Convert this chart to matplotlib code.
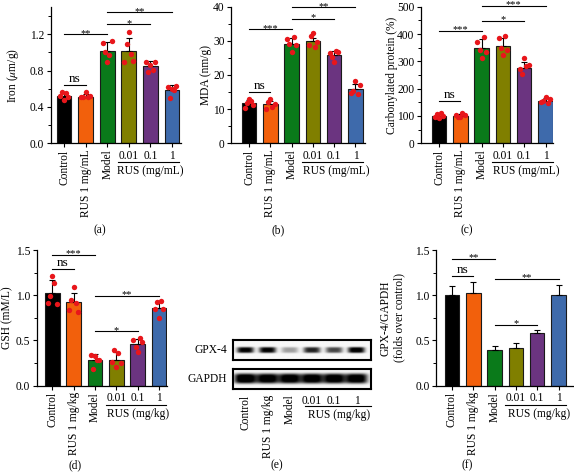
import numpy as np
import matplotlib
matplotlib.use("Agg")
import matplotlib.pyplot as plt
from matplotlib import transforms

plt.rcParams['font.family'] = ['Liberation Serif', 'DejaVu Serif']
plt.rcParams['mathtext.fontset'] = 'stix'
plt.rcParams['font.size'] = 8.3

W, H = 574, 473

# ---- data ----
groups_ml = ['Control', 'RUS 1 mg/mL', 'Model', '0.01', '0.1', '1']
groups_kg = ['Control', 'RUS 1 mg/kg', 'Model', '0.01', '0.1', '1']
bar_colors = ['#000000', '#F2600C', '#0A7A1A', '#807F00', '#6B3480', '#3E6AAB']
dot_color = '#E8161B'

iron_mean = [0.52, 0.51, 1.02, 1.02, 0.85, 0.59]
iron_err = [0.03, 0.03, 0.09, 0.135, 0.055, 0.055]
iron_dots = [[0.52, 0.56, 0.48, 0.55, 0.51],
             [0.51, 0.505, 0.57, 0.505, 0.52],
             [1.10, 1.00, 0.90, 0.97, 1.13],
             [0.90, 1.09, 1.22, 0.98, 0.91],
             [0.89, 0.78, 0.86, 0.81, 0.89],
             [0.615, 0.495, 0.60, 0.59, 0.63]]
iron_sig = [(0, 1, 0.64, 'ns'), (0, 2, 1.2, '**'), (2, 4, 1.31, '*'), (2, 5, 1.44, '**')]

mda_mean = [11.7, 11.4, 29.2, 30.0, 25.9, 15.8]
mda_err = [0.9, 0.9, 1.5, 0.8, 1.0, 1.6]
mda_dots = [[10.3, 11.9, 13.1, 12.5, 11.1],
            [10.0, 12.2, 12.9, 10.7, 11.5],
            [30.4, 29.2, 26.8, 31.2, 28.8],
            [28.9, 31.4, 32.2, 28.3, 29.8],
            [26.3, 25.4, 23.9, 27.1, 26.8],
            [14.6, 15.3, 18.2, 14.4, 17.1]]
mda_sig = [(0, 1, 15.1, 'ns'), (0, 2, 33.4, '***'), (2, 4, 36.4, '*'), (2, 5, 39.8, '**')]

carb_mean = [101, 101, 349, 357, 277, 156]
carb_err = [6, 5, 31, 27, 22, 8]
carb_dots = [[98, 106, 91, 110, 100],
             [104, 98, 95, 110, 104],
             [372, 341, 311, 390, 335],
             [384, 350, 323, 394, 341],
             [271, 254, 311, 283, 287],
             [152, 155, 168, 146, 161]]
carb_sig = [(0, 1, 156, 'ns'), (0, 2, 412, '***'), (2, 4, 449, '*'), (2, 5, 502, '***')]

gsh_mean = [1.026, 0.92, 0.287, 0.283, 0.463, 0.86]
gsh_err = [0.14, 0.11, 0.058, 0.084, 0.057, 0.074]
gsh_dots = [[0.91, 0.99, 1.21, 1.13, 0.90],
            [0.835, 0.945, 1.09, 0.915, 0.81],
            [0.338, 0.19, 0.327, 0.283, 0.283],
            [0.257, 0.39, 0.21, 0.357, 0.254],
            [0.51, 0.43, 0.368, 0.53, 0.478],
            [0.853, 0.92, 0.743, 0.934, 0.853]]
gsh_sig = [(0, 2, 1.45, '***'), (0, 1, 1.287, 'ns'), (2, 5, 0.99, '**'), (2, 4, 0.60, '*')]

gpx_mean = [1.0, 1.03, 0.39, 0.42, 0.58, 1.007]
gpx_err = [0.10, 0.117, 0.044, 0.054, 0.04, 0.111]
gpx_sig = [(0, 2, 1.40, '**'), (0, 1, 1.21, 'ns'), (2, 5, 1.18, '**'), (2, 4, 0.676, '*')]

# western blot band strengths (0 = none, 1 = black)
gpx4_band = [1.0, 1.0, 0.35, 0.85, 0.7, 1.05]
gapdh_band = [1.15, 1.1, 1.1, 1.1, 1.1, 1.1]

JITTER = np.array([-0.2, -0.1, 0.0, 0.1, 0.2])

fig = plt.figure(figsize=(W / 100, H / 100), dpi=100)


def px_axes(left, top, right, bottom):
    return fig.add_axes([left / W, 1 - bottom / H, (right - left) / W, (bottom - top) / H])


def offset(ax, dy_px):
    trans = transforms.blended_transform_factory(ax.transData, ax.transAxes)
    return trans + transforms.ScaledTranslation(0, dy_px / 100, fig.dpi_scale_trans)


def group_labels(ax, labels, unit, x0, x1, xt, line_px, text_px):
    ax.set_xticks(range(6), labels)
    for lbl in ax.get_xticklabels()[:3]:
        lbl.set_rotation(90)
    ax.plot([x0, x1], [0, 0], transform=offset(ax, -line_px), color='black',
            lw=0.8, clip_on=False)
    ax.text(xt, 0, unit, transform=offset(ax, -text_px), ha='center', va='center')


def bar_panel(rect, means, errs, dots, ylim, major, minor, ylabel, label_px,
              sigs, xlim, labels, unit, unit_x):
    ax = px_axes(*rect)
    x = np.arange(6)
    ax.bar(x, means, width=0.68, color=bar_colors, edgecolor='#1a1a1a', linewidth=0.8, zorder=2)
    ax.errorbar(x, means, yerr=[np.zeros(6), errs], fmt='none', ecolor='black',
                elinewidth=0.8, capsize=2.5, capthick=0.8, zorder=3)
    if dots is not None:
        for i, d in enumerate(dots):
            ax.scatter(i + JITTER, d, s=15, color=dot_color, linewidths=0, zorder=4)
    ax.set_xlim(*xlim)
    ax.set_ylim(*ylim)
    ax.set_yticks(major)
    ax.set_yticks(minor, minor=True)
    for s in ['top', 'right']:
        ax.spines[s].set_visible(False)
    for s in ['left', 'bottom']:
        ax.spines[s].set_linewidth(0.9)
    ax.tick_params(axis='both', which='major', direction='out', length=3, width=0.8, pad=1.5)
    ax.tick_params(axis='y', which='minor', direction='out', length=2, width=0.7)
    group_labels(ax, labels, unit, 2.5, 5.35, unit_x, 19, 28)

    for a, b, y, txt in sigs:
        ax.plot([a, b], [y, y], color='black', lw=0.8, clip_on=False)
        if txt == 'ns':
            ax.annotate(txt, (0.5 * (a + b), y), xytext=(0, 2), textcoords='offset points',
                        ha='center', va='baseline', fontsize=9.5, annotation_clip=False)
        else:
            ax.annotate(txt, (0.5 * (a + b), y), xytext=(0, -1), textcoords='offset points',
                        ha='center', va='baseline', fontsize=7.5, annotation_clip=False)

    ax.set_ylabel(ylabel)
    ax.yaxis.set_label_coords((label_px - rect[0]) / (rect[2] - rect[0]), 0.5)
    return ax


# (a) iron
ax_a = bar_panel((50.7, 7, 181, 143.3), iron_mean, iron_err, iron_dots, (0, 1.5),
                 [0, 0.4, 0.8, 1.2], [0.2, 0.6, 1.0, 1.4], 'Iron ($\\mu$m/g)', 21,
                 iron_sig, (-0.62, 5.42), groups_ml, 'RUS (mg/mL)', 4.0)
ax_a.set_yticklabels(['0.0', '0.4', '0.8', '1.2'])

# (b) MDA
bar_panel((230.7, 6.7, 365, 143.3), mda_mean, mda_err, mda_dots, (0, 40),
          [0, 10, 20, 30, 40], [5, 15, 25, 35], 'MDA (nm/g)', 212,
          mda_sig, (-0.86, 5.45), groups_ml, 'RUS (mg/mL)', 4.1)

# (c) carbonylated protein
bar_panel((420.7, 6.7, 553, 143.3), carb_mean, carb_err, carb_dots, (0, 500),
          [0, 100, 200, 300, 400, 500], [50, 150, 250, 350, 450],
          'Carbonylated protein (%)', 398,
          carb_sig, (-0.86, 5.35), groups_ml, 'RUS (mg/mL)', 4.1)

# (d) GSH
ax_d = bar_panel((36.7, 250, 166.7, 385.7), gsh_mean, gsh_err, gsh_dots, (0, 1.5),
                 [0, 0.5, 1.0, 1.5], [0.25, 0.75, 1.25], 'GSH (mM/L)', 13,
                 gsh_sig, (-0.73, 5.36), groups_kg, 'RUS (mg/kg)', 4.0)
ax_d.set_yticklabels(['0.0', '0.5', '1.0', '1.5'])

# (f) GPX-4 / GAPDH
ax_f = bar_panel((436, 250, 573, 385.7), gpx_mean, gpx_err, None, (0, 1.5),
                 [0, 0.5, 1.0, 1.5], [0.25, 0.75, 1.25],
                 'GPX-4/GAPDH\n(folds over control)', 405,
                 gpx_sig, (-0.75, 5.68), groups_kg, 'RUS (mg/kg)', 4.1)
ax_f.set_yticklabels(['0.0', '0.5', '1.0', '1.5'])


# (e) western blot
def blot(rect, strengths, wx, wy, name):
    ax = px_axes(*rect)
    xs = np.linspace(-0.55, 5.65, 320)
    ys = np.linspace(0, 1, 60)
    img = np.ones((ys.size, xs.size)) * 0.97
    for i, s in enumerate(strengths):
        img -= s * np.exp(-((xs - i) / wx) ** 4)[None, :] * np.exp(-((ys - 0.5) / wy) ** 4)[:, None]
    ax.imshow(np.clip(img, 0, 1), extent=(-0.55, 5.65, 0, 1), aspect='auto', cmap='gray',
              vmin=0, vmax=1, interpolation='bilinear')
    ax.set_xlim(-0.55, 5.65)
    ax.set_ylim(0, 1)
    ax.set_yticks([])
    for s in ax.spines.values():
        s.set_linewidth(1.5)
    ax.text(-0.04, 0.5, name, transform=ax.transAxes, ha='right', va='center')
    return ax


ax_g = blot((233, 340, 371, 360), gpx4_band, 0.38, 0.15, 'GPX-4')
ax_g.set_xticks([])
ax_h = blot((233, 369, 371, 389), gapdh_band, 0.5, 0.24, 'GAPDH')
ax_h.tick_params(axis='x', length=0, pad=4)
group_labels(ax_h, groups_kg, 'RUS (mg/kg)', 2.7, 5.65, 4.2, 17, 26)

# panel letters
for txt, px, py in [('(a)', 100, 230), ('(b)', 278, 230), ('(c)', 467, 230),
                    ('(d)', 75, 465), ('(e)', 277, 465), ('(f)', 467, 465)]:
    fig.text(px / W, 1 - py / H, txt, ha='center', va='center')

fig.savefig('out.png', dpi=100)
